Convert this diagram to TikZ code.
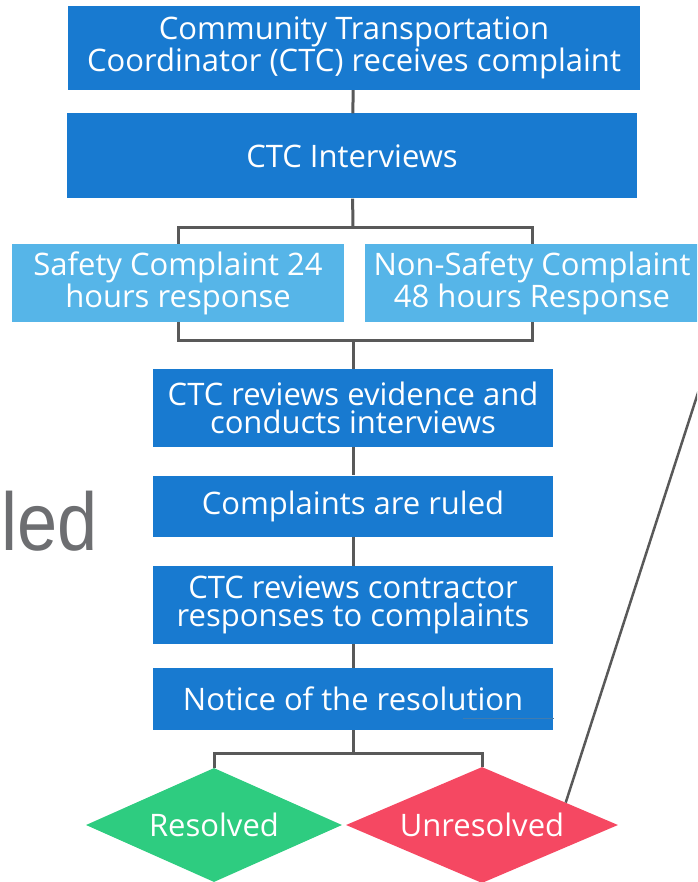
\documentclass[tikz,border=0pt]{standalone}
\usepackage{fontspec}
\setmainfont{Open Sans}
\newfontfamily\titlefont{Liberation Sans}
\usetikzlibrary{shapes.geometric}
\definecolor{ctcblue}{RGB}{24,122,208}
\definecolor{ctclight}{RGB}{86,181,232}
\definecolor{okgreen}{RGB}{46,204,128}
\definecolor{badred}{RGB}{245,72,98}
\definecolor{linegray}{RGB}{89,89,89}
\definecolor{titlegray}{RGB}{109,110,113}
\begin{document}
\begin{tikzpicture}[x=1pt,y=-1pt,
  stepbox/.style={fill=ctcblue,text=white,inner sep=0pt,align=center,font=\fontsize{31}{28}\selectfont},
  lightbox/.style={stepbox,fill=ctclight,minimum width=332pt,minimum height=78pt},
  midbox/.style={stepbox,minimum width=400pt},
  outcome/.style={diamond,inner sep=0pt,aspect=2.25,text=white,font=\fontsize{31}{28}\selectfont},
  conn/.style={draw=linegray,line width=3pt}]
  \clip (0,0) rectangle (697,882);
%  \draw[gray!30] (0,0) grid[step=50] (697,882);

  \node[anchor=base west,inner sep=0pt,text=titlegray,font=\titlefont\fontsize{82}{82}\selectfont] (title) at (1,550) {\scalebox{0.88}[1]{led}}; % cut off title

  \node[stepbox,minimum width=572pt,minimum height=84pt] (receive) at (354,48) {Community Transportation\\Coordinator (CTC) receives complaint};
  \node[stepbox,minimum width=570pt,minimum height=85pt] (interview) at (352,156) {CTC Interviews};

  \node[lightbox] (safety) at (178,283) {Safety Complaint 24\\hours response};
  \node[lightbox,minimum width=334pt] (nonsafety) at (532,283) {Non-Safety Complaint\\48 hours Response};

  \node[midbox,minimum height=78pt] (evidence) at (353,408) {CTC reviews evidence and\\conducts interviews};
  \node[midbox,minimum height=61pt] (ruled) at (353,506) {Complaints are ruled};
  \node[midbox,minimum height=78pt] (contractor) at (353,605) {CTC reviews contractor\\responses to complaints};
  \node[midbox,minimum height=62pt] (notice) at (353,699) {Notice of the resolution};
  \draw[ctcblue!60!gray,line width=0.6pt] (463,718) -- (554,718); % stray rule

  \node[outcome,fill=okgreen,minimum width=256pt,minimum height=114pt] (resolved) at (214,825) {Resolved};
  \node[outcome,fill=badred,minimum width=272pt,minimum height=116pt] (unresolved) at (482,825) {Unresolved};

  \coordinate (split1) at (353,228);
  \coordinate (merge1) at (353,340);
  \coordinate (split2) at (353,753);
  \coordinate (offpage) at (706,368);

  \draw[conn] (receive) -- (interview);
  \draw[conn] (interview) -- (split1);
  \draw[conn] (safety.north) |- (split1) -| (nonsafety.north);
  \draw[conn] (safety.south) |- (merge1) -| (nonsafety.south);
  \draw[conn] (merge1) -- (evidence.north);
  \draw[conn] (evidence) -- (ruled);
  \draw[conn] (ruled) -- (contractor);
  \draw[conn] (contractor) -- (notice);
  \draw[conn] (notice) -- (split2);
  \draw[conn] (resolved.north) |- (split2) -| (unresolved.north);
  \draw[conn,line width=2.5pt] (unresolved.15) -- (offpage);
\end{tikzpicture}
\end{document}
